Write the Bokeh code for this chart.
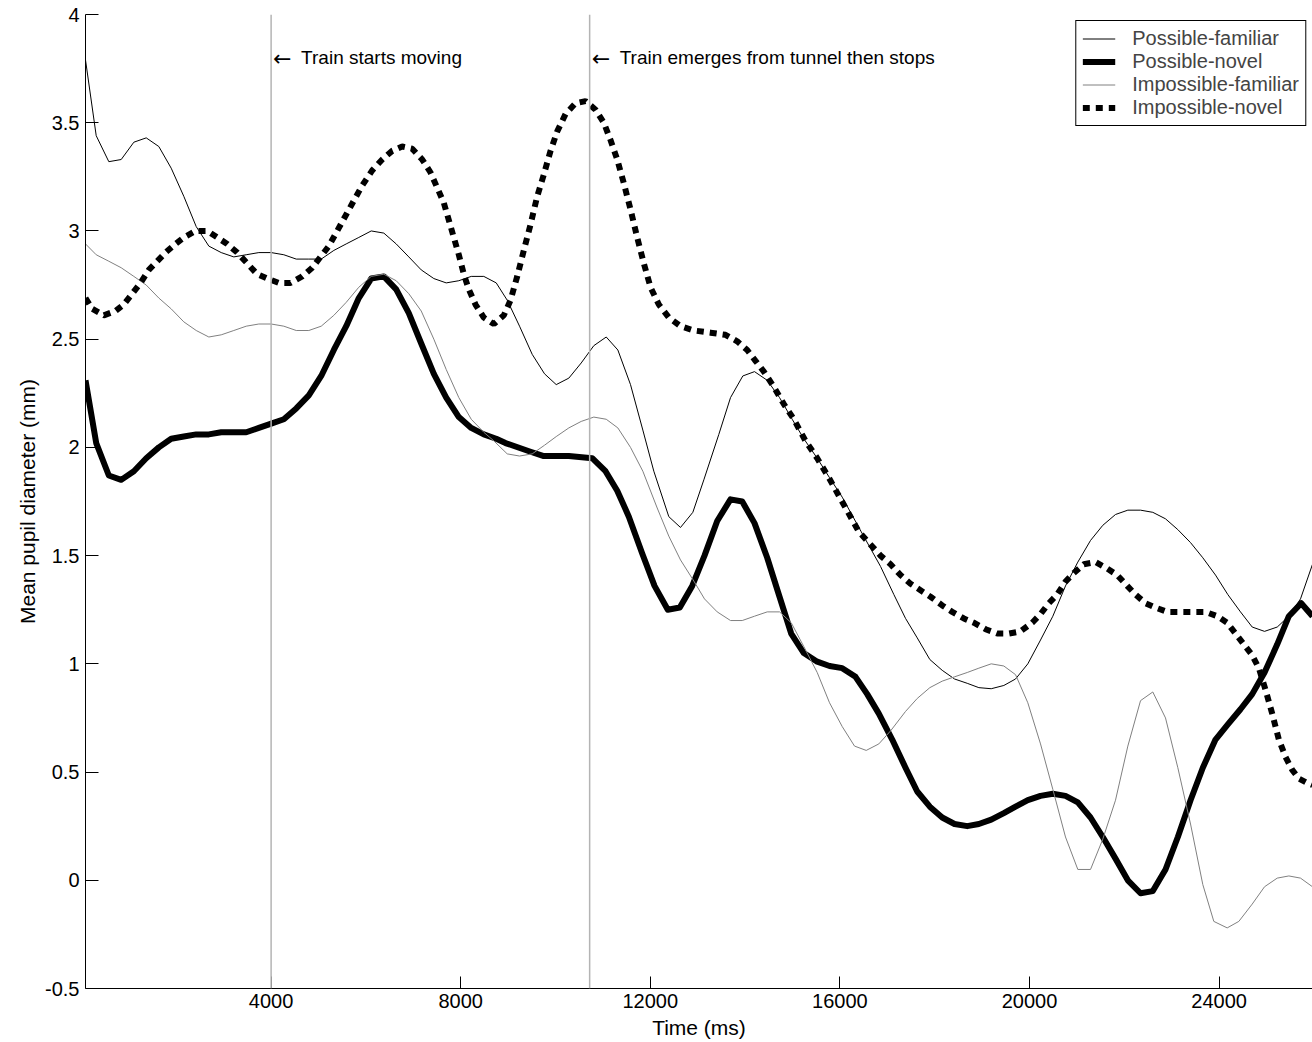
from bokeh.plotting import figure
from bokeh.models import (Span, Label, Legend, LegendItem, FixedTicker,
                          CustomJSTickFormatter, Range1d)
from bokeh.embed import file_html
from bokeh.resources import INLINE

# ---------------- data ----------------
pf_t = [84, 310, 576, 837, 1104, 1365, 1631, 1892, 2158, 2420, 2686, 2947, 3213, 3475, 3741,
        4002, 4268, 4530, 4795, 5057, 5323, 5584, 5850, 6112, 6378, 6639, 6905, 7167, 7433,
        7694, 7960, 8222, 8487, 8749, 8981, 9241, 9508, 9768, 10015, 10281, 10542, 10808,
        11070, 11315, 11582, 11842, 12074, 12390, 12637, 12897, 13129, 13445, 13692, 13951,
        14198, 14466, 14726, 14993, 15238, 15521, 15781, 16049, 16450, 16857, 17138, 17384,
        17631, 17897, 18158, 18418, 18686, 18931, 19192, 19458, 19705, 19964, 20232, 20492,
        20759, 21019, 21287, 21546, 21814, 22074, 22342, 22601, 22869, 23129, 23397, 23656,
        23924, 24184, 24451, 24698, 24958, 25226, 25471, 25717, 25970]
pf_v = [3.79, 3.44, 3.32, 3.33, 3.41, 3.43, 3.39, 3.29, 3.16, 3.02, 2.93, 2.90, 2.88, 2.89, 2.90,
        2.90, 2.89, 2.87, 2.87, 2.87, 2.91, 2.94, 2.97, 3.00, 2.99, 2.94, 2.88, 2.82, 2.78,
        2.76, 2.77, 2.79, 2.79, 2.76, 2.68, 2.56, 2.43, 2.34, 2.29, 2.32, 2.39, 2.47,
        2.51, 2.45, 2.29, 2.08, 1.89, 1.68, 1.63, 1.70, 1.85, 2.06, 2.23, 2.33,
        2.35, 2.31, 2.23, 2.13, 2.04, 1.95, 1.86, 1.77, 1.61, 1.45, 1.32, 1.21,
        1.12, 1.02, 0.97, 0.93, 0.91, 0.89, 0.885, 0.90, 0.93, 1.00, 1.11, 1.22,
        1.36, 1.47, 1.57, 1.64, 1.69, 1.71, 1.71, 1.70, 1.67, 1.62, 1.56, 1.49,
        1.41, 1.32, 1.24, 1.17, 1.15, 1.17, 1.22, 1.30, 1.46]

pn_t = [84, 310, 576, 837, 1104, 1365, 1631, 1892, 2158, 2420, 2686, 2947, 3213, 3475, 3741,
        4002, 4268, 4530, 4795, 5057, 5323, 5584, 5850, 6112, 6378, 6639, 6905, 7167, 7433,
        7694, 7960, 8222, 8487, 8749, 8945, 9473, 9753, 10281, 10774, 11055, 11302, 11547,
        11829, 12089, 12369, 12622, 12884, 13143, 13411, 13692, 13939, 14198, 14466, 14726,
        14972, 15238, 15521, 15781, 16049, 16329, 16576, 16821, 17103, 17384, 17631, 17897,
        18158, 18418, 18686, 18931, 19192, 19458, 19705, 19964, 20232, 20492, 20759, 21019,
        21287, 21546, 21814, 22074, 22342, 22601, 22869, 23129, 23397, 23656, 23924, 24184,
        24451, 24698, 24958, 25226, 25471, 25732, 25970]
pn_v = [2.31, 2.02, 1.87, 1.85, 1.89, 1.95, 2.00, 2.04, 2.05, 2.06, 2.06, 2.07, 2.07, 2.07, 2.09,
        2.11, 2.13, 2.18, 2.24, 2.33, 2.45, 2.56, 2.69, 2.78, 2.79, 2.73, 2.62, 2.48, 2.34,
        2.23, 2.14, 2.09, 2.06, 2.04, 2.02, 1.98, 1.96, 1.96, 1.95, 1.89, 1.80, 1.68,
        1.51, 1.36, 1.25, 1.26, 1.36, 1.50, 1.66, 1.76, 1.75, 1.65, 1.49, 1.31,
        1.14, 1.05, 1.01, 0.99, 0.98, 0.94, 0.86, 0.77, 0.65, 0.52, 0.41, 0.34,
        0.29, 0.26, 0.25, 0.26, 0.28, 0.31, 0.34, 0.37, 0.39, 0.40, 0.39, 0.36,
        0.29, 0.20, 0.10, 0.00, -0.06, -0.05, 0.05, 0.20, 0.37, 0.52, 0.65, 0.72,
        0.79, 0.86, 0.96, 1.09, 1.22, 1.28, 1.22]

if_t = [84, 310, 576, 837, 1104, 1365, 1631, 1892, 2158, 2420, 2686, 2947, 3213, 3475, 3741,
        4002, 4268, 4530, 4795, 5057, 5323, 5584, 5850, 6112, 6378, 6639, 6905, 7167, 7433,
        7694, 7960, 8222, 8487, 8699, 8981, 9241, 9508, 9768, 10015, 10281, 10542, 10808,
        11070, 11315, 11582, 11842, 12145, 12390, 12637, 12897, 13143, 13411, 13692, 13939,
        14198, 14466, 14726, 14972, 15238, 15521, 15781, 16049, 16308, 16555, 16821, 17068,
        17384, 17631, 17897, 18158, 18418, 18686, 18931, 19192, 19458, 19705, 19964, 20232,
        20492, 20759, 21019, 21287, 21546, 21814, 22074, 22342, 22601, 22869, 23129, 23397,
        23656, 23888, 24170, 24416, 24698, 24958, 25226, 25471, 25717, 25970]
if_v = [2.94, 2.89, 2.86, 2.83, 2.79, 2.75, 2.69, 2.64, 2.58, 2.54, 2.51, 2.52, 2.54, 2.56, 2.57,
        2.57, 2.56, 2.54, 2.54, 2.56, 2.61, 2.67, 2.74, 2.79, 2.80, 2.77, 2.71, 2.63, 2.50,
        2.36, 2.23, 2.13, 2.07, 2.03, 1.97, 1.96, 1.97, 2.01, 2.05, 2.09, 2.12, 2.14,
        2.13, 2.09, 2.00, 1.89, 1.72, 1.59, 1.48, 1.39, 1.30, 1.24, 1.20, 1.20,
        1.22, 1.24, 1.24, 1.19, 1.08, 0.96, 0.82, 0.71, 0.62, 0.60, 0.63, 0.69,
        0.78, 0.84, 0.89, 0.92, 0.94, 0.96, 0.98, 1.00, 0.99, 0.95, 0.82, 0.63,
        0.42, 0.20, 0.05, 0.05, 0.19, 0.37, 0.62, 0.83, 0.87, 0.75, 0.52, 0.26,
        -0.02, -0.19, -0.22, -0.19, -0.11, -0.03, 0.01, 0.02, 0.01, -0.03]

in_t = [84, 226, 470, 717, 892, 1070, 1245, 1420, 1597, 1772, 1983, 2158, 2405, 2652, 2863,
        3074, 3285, 3496, 3707, 3918, 4163, 4409, 4656, 4867, 5042, 5217, 5394, 5570, 5745,
        5922, 6133, 6344, 6555, 6766, 6977, 7188, 7363, 7504, 7643, 7749, 7854, 7960, 8065,
        8171, 8312, 8487, 8699, 8909, 9051, 9192, 9331, 9473, 9614, 9753, 9895, 10036, 10211,
        10422, 10633, 10844, 11019, 11160, 11302, 11441, 11582, 11723, 11863, 12004, 12179,
        12390, 12637, 12918, 13270, 13586, 13833, 14044, 14219, 14395, 14606, 14817, 15028,
        15274, 15521, 15766, 15943, 16400, 16857, 17068, 17278, 17489, 17700, 17911, 18158,
        18369, 18614, 18825, 19072, 19318, 19563, 19810, 20057, 20232, 20407, 20584, 20759,
        20935, 21146, 21392, 21639, 21850, 22061, 22236, 22447, 22658, 22905, 23186, 23466,
        23713, 23960, 24170, 24346, 24521, 24698, 24838, 24979, 25120, 25260, 25401, 25542,
        25682, 25859, 25970]
in_v = [2.69, 2.64, 2.61, 2.63, 2.66, 2.71, 2.76, 2.82, 2.86, 2.90, 2.94, 2.97, 3.00, 3.00, 2.97,
        2.94, 2.90, 2.85, 2.80, 2.78, 2.76, 2.76, 2.79, 2.83, 2.88, 2.93, 3.00, 3.07, 3.14,
        3.21, 3.28, 3.33, 3.37, 3.39, 3.38, 3.33, 3.27, 3.20, 3.13, 3.05, 2.97, 2.89, 2.80,
        2.73, 2.66, 2.60, 2.57, 2.61, 2.68, 2.79, 2.91, 3.03, 3.16, 3.26, 3.37, 3.46, 3.54,
        3.59, 3.60, 3.56, 3.50, 3.42, 3.33, 3.22, 3.10, 2.97, 2.85, 2.74, 2.66,
        2.60, 2.56, 2.54, 2.53, 2.52, 2.49, 2.45, 2.40, 2.35, 2.28, 2.20, 2.13,
        2.03, 1.95, 1.86, 1.79, 1.61, 1.50, 1.46, 1.41, 1.37, 1.34, 1.31, 1.27,
        1.24, 1.21, 1.19, 1.16, 1.14, 1.14, 1.15, 1.19, 1.23, 1.28, 1.32, 1.38,
        1.42, 1.46, 1.47, 1.44, 1.41, 1.36, 1.32, 1.28, 1.26, 1.24, 1.24, 1.24,
        1.24, 1.22, 1.19, 1.14, 1.09, 1.04, 0.98, 0.88, 0.77, 0.65, 0.57, 0.51,
        0.47, 0.45, 0.44]

event_times = [4000, 10720]
event_labels = ["Train starts moving", "Train emerges from tunnel then stops"]
x_ticks = [4000, 8000, 12000, 16000, 20000, 24000]
y_ticks = [-0.5, 0, 0.5, 1, 1.5, 2, 2.5, 3, 3.5, 4]

FONT = "Liberation Sans"

p = figure(width=1312, height=1042, output_backend="svg", toolbar_location=None,
           x_range=Range1d(84, 25970), y_range=Range1d(-0.5, 4),
           min_border_left=85, min_border_right=0, min_border_top=14, min_border_bottom=54)
p.outline_line_color = None
p.xgrid.visible = False
p.ygrid.visible = False
p.background_fill_color = "white"
p.border_fill_color = "white"

for ax in (p.xaxis[0], p.yaxis[0]):
    ax.axis_line_color = "black"
    ax.axis_line_width = 1
    ax.major_tick_line_color = "black"
    ax.major_tick_out = 0
    ax.minor_tick_line_color = None
    ax.major_label_text_font = FONT
    ax.major_label_text_font_size = "20px"
    ax.major_label_text_color = "black"
    ax.axis_label_text_font = FONT
    ax.axis_label_text_font_size = "21px"
    ax.axis_label_text_font_style = "normal"
    ax.axis_label_text_color = "black"

p.xaxis[0].ticker = FixedTicker(ticks=x_ticks)
p.xaxis[0].major_tick_in = 12
p.xaxis[0].major_label_standoff = 5
p.xaxis[0].axis_label = "Time (ms)"
p.xaxis[0].axis_label_standoff = 5

p.yaxis[0].ticker = FixedTicker(ticks=y_ticks)
p.yaxis[0].major_tick_in = 13
p.yaxis[0].major_label_standoff = 6
p.yaxis[0].formatter = CustomJSTickFormatter(code="return String(tick);")
p.yaxis[0].axis_label = "Mean pupil diameter (mm)"
p.yaxis[0].axis_label_standoff = 3

# event markers
for t, txt in zip(event_times, event_labels):
    p.add_layout(Span(location=t, dimension="height", line_color="#b4b4b4", line_width=1.5))
    p.add_layout(Label(x=t, y=3.8, text="\u2190", x_offset=2, y_offset=-1, text_baseline="middle",
                       text_align="left", text_font="DejaVu Sans", text_font_size="22px",
                       text_color="black"))
    p.add_layout(Label(x=t, y=3.8, text=txt, x_offset=30, text_baseline="middle",
                       text_align="left", text_font=FONT, text_font_size="19px",
                       text_color="black"))

r_pf = p.line(pf_t, pf_v, line_color="black", line_width=1)
r_pn = p.line(pn_t, pn_v, line_color="black", line_width=6, line_join="round")
r_if = p.line(if_t, if_v, line_color="#808080", line_width=1)
r_in = p.line(in_t, in_v, line_color="black", line_width=6, line_dash="7 6")

legend = Legend(items=[LegendItem(label="Possible-familiar", renderers=[r_pf]),
                       LegendItem(label="Possible-novel", renderers=[r_pn]),
                       LegendItem(label="Impossible-familiar", renderers=[r_if]),
                       LegendItem(label="Impossible-novel", renderers=[r_in])],
                location="top_right", margin=6, padding=6, spacing=0,
                glyph_width=33, glyph_height=23, label_height=23, label_standoff=17,
                label_text_font=FONT, label_text_font_size="20px",
                border_line_color="black", border_line_width=1, border_line_alpha=1.0,
                background_fill_color="white", background_fill_alpha=1.0)
p.add_layout(legend)

open("out.html", "w").write(file_html(p, INLINE))
